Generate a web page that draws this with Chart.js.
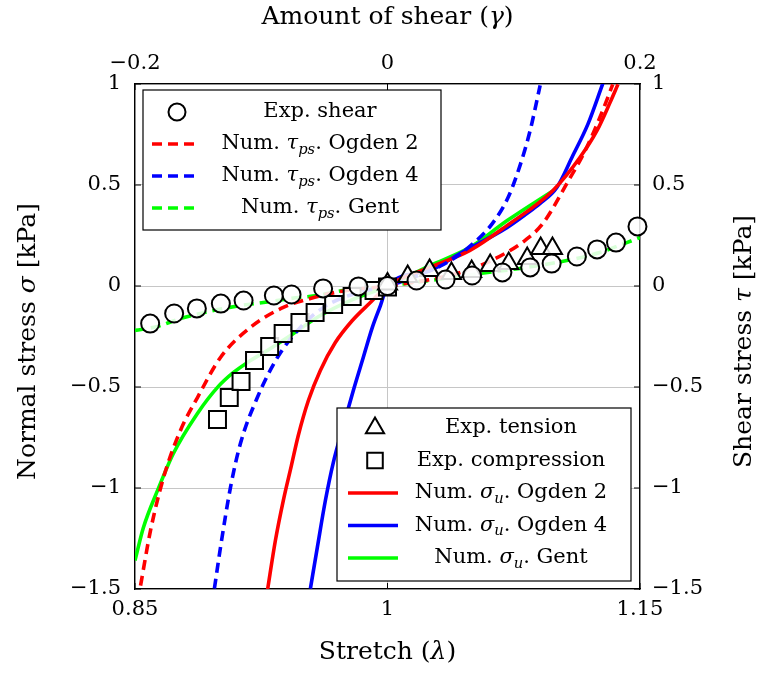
<!DOCTYPE html>
<html>
<head>
<meta charset="utf-8">
<script src="https://cdn.jsdelivr.net/npm/chart.js@4.4.0/dist/chart.umd.min.js"></script>
<style>
  html, body { margin: 0; padding: 0; background: #fff; }
</style>
</head>
<body>
<canvas id="chart" width="760" height="675"></canvas>
<script>
// experimental points
const shearGamma = [-0.188, -0.169, -0.151, -0.132, -0.114, -0.090, -0.076, -0.051, -0.023, 0.0,
  0.023, 0.046, 0.067, 0.091, 0.113, 0.130, 0.150, 0.166, 0.181, 0.198];
const shearTau = [-0.186, -0.136, -0.111, -0.087, -0.072, -0.047, -0.042, -0.012, -0.002, 0.0,
  0.027, 0.032, 0.052, 0.067, 0.092, 0.111, 0.146, 0.181, 0.215, 0.295];
const tensionStretch = [1.0, 1.012, 1.025, 1.038, 1.050, 1.061, 1.072, 1.083, 1.091, 1.098];
const tensionSigma = [0.01, 0.047, 0.077, 0.062, 0.072, 0.101, 0.111, 0.136, 0.186, 0.186];
const compStretch = [0.899, 0.906, 0.913, 0.921, 0.930, 0.938, 0.948, 0.957, 0.968, 0.979, 0.992, 1.0];
const compSigma = [-0.661, -0.552, -0.473, -0.369, -0.299, -0.235, -0.181, -0.131, -0.092, -0.052, -0.022, -0.005];

// numerical, uniaxial (vs stretch)
const og2UniStretch = [0.9286, 0.9334, 0.9381, 0.9429, 0.947, 0.953, 0.9601, 0.969, 0.9791, 0.9898, 1.0,
  1.0252, 1.049, 1.0711, 1.0983, 1.1143, 1.1245, 1.1322, 1.1369];
const og2UniSigma = [-1.512, -1.26, -1.062, -0.889, -0.74, -0.567, -0.418, -0.28, -0.171, -0.082, 0,
  0.092, 0.176, 0.3, 0.473, 0.636, 0.77, 0.908, 0.998];
const og4UniStretch = [0.9542, 0.9583, 0.9631, 0.9678, 0.9738, 0.9797, 0.9856, 0.991, 0.9958, 1.0,
  1.0252, 1.043, 1.0709, 1.0828, 1.0905, 1.1006, 1.1101, 1.119, 1.1279];
const og4UniSigma = [-1.498, -1.295, -1.062, -0.874, -0.691, -0.517, -0.354, -0.205, -0.097, 0,
  0.077, 0.161, 0.289, 0.359, 0.408, 0.488, 0.646, 0.8, 1.002];
const gentUniStretch = [0.85, 0.855, 0.8634, 0.8728, 0.8871, 0.899, 0.9085, 0.9186, 0.9286, 0.9423,
  0.9601, 0.9779, 1.0, 1.0252, 1.049, 1.0711, 1.0995];
const gentUniSigma = [-1.359, -1.196, -1.012, -0.829, -0.631, -0.502, -0.428, -0.369, -0.319, -0.245,
  -0.146, -0.072, 0, 0.101, 0.191, 0.324, 0.478];

// numerical, simple shear (vs amount of shear)
const og2ShearGamma = [-0.1956, -0.1877, -0.1774, -0.164, -0.1505, -0.1323, -0.1086, -0.0825, -0.0611,
  -0.0374, 0, 0.0336, 0.055, 0.0732, 0.0945, 0.1088, 0.123, 0.142, 0.1578, 0.1705, 0.1784];
const og2ShearTau = [-1.483, -1.21, -0.948, -0.715, -0.552, -0.354, -0.205, -0.106, -0.062,
  -0.027, 0, 0.032, 0.062, 0.101, 0.166, 0.225, 0.309, 0.507, 0.686, 0.869, 0.998];
const og4ShearGamma = [-0.1371, -0.1323, -0.1244, -0.1165, -0.1031, -0.0872, -0.069, -0.0508, -0.035,
  -0.0162, 0, 0.0281, 0.0471, 0.0678, 0.0836, 0.0955, 0.105, 0.113, 0.1209];
const og4ShearTau = [-1.498, -1.295, -0.998, -0.78, -0.552, -0.354, -0.205, -0.106, -0.057,
  -0.022, 0, 0.062, 0.116, 0.21, 0.314, 0.438, 0.597, 0.77, 0.993];
const gentShearGamma = [-0.2, -0.1822, -0.164, -0.1379, -0.1165, -0.0983, -0.077, -0.0556, -0.035,
  -0.0138, 0, 0.0336, 0.0732, 0.1048, 0.142, 0.1681, 0.1895, 0.2];
const gentShearTau = [-0.22, -0.2, -0.161, -0.121, -0.097, -0.082, -0.062, -0.047, -0.022,
  -0.012, 0, 0.027, 0.062, 0.087, 0.126, 0.166, 0.215, 0.24];

const stretchTicks = [0.85, 1, 1.15];
const shearTicks = [-0.2, 0, 0.2];
const stressTicks = [-1.5, -1, -0.5, 0, 0.5, 1];

const SERIF = '"DejaVu Serif", serif';
const RED = "#ff0000";
const BLUE = "#0000ff";
const GREEN = "#00ff00";
const MARKER_FILL = "rgba(255,255,255,0.85)";

function pts(xs, ys) {
  return xs.map((x, i) => ({ x: x, y: ys[i] }));
}

function fmt(v) {
  return (v < 0 ? "\u2212" : "") + String(Math.abs(v));
}

function curve(label, xs, ys, color, dashed, shear) {
  return {
    label: label,
    data: pts(xs, ys),
    xAxisID: shear ? "x2" : "x",
    yAxisID: shear ? "y2" : "y",
    showLine: true,
    borderColor: color,
    backgroundColor: color,
    borderWidth: 3.6,
    borderDash: dashed ? [10, 6] : [],
    pointRadius: 0,
    cubicInterpolationMode: "monotone",
    order: 2,
  };
}

function markers(label, xs, ys, style, radius, shear) {
  return {
    label: label,
    data: pts(xs, ys),
    xAxisID: shear ? "x2" : "x",
    yAxisID: shear ? "y2" : "y",
    showLine: false,
    pointStyle: style,
    pointRadius: radius,
    pointBorderWidth: 2,
    pointBorderColor: "#000",
    pointBackgroundColor: MARKER_FILL,
    borderColor: "#000",
    backgroundColor: MARKER_FILL,
    clip: false,
    order: 1,
  };
}

const datasets = [
  markers("Exp. shear", shearGamma, shearTau, "circle", 9, true), // 0
  curve("Num. tau_ps. Ogden 2", og2ShearGamma, og2ShearTau, RED, true, true), // 1
  curve("Num. tau_ps. Ogden 4", og4ShearGamma, og4ShearTau, BLUE, true, true), // 2
  curve("Num. tau_ps. Gent", gentShearGamma, gentShearTau, GREEN, true, true), // 3
  markers("Exp. tension", tensionStretch, tensionSigma, "triangle", 11, false), // 4
  markers("Exp. compression", compStretch, compSigma, "rect", 12, false), // 5
  curve("Num. sigma_u. Ogden 2", og2UniStretch, og2UniSigma, RED, false, false), // 6
  curve("Num. sigma_u. Ogden 4", og4UniStretch, og4UniSigma, BLUE, false, false), // 7
  curve("Num. sigma_u. Gent", gentUniStretch, gentUniSigma, GREEN, false, false), // 8
];
// circles sit on top of the triangles
datasets[0].order = 0;

// legend text, parts: [text, style]
const legendShear = [
  { ds: 0, parts: [["Exp. shear", ""]] },
  { ds: 1, parts: [["Num. ", ""], ["\u03c4", "i"], ["ps", "sub"], [". Ogden 2", ""]] },
  { ds: 2, parts: [["Num. ", ""], ["\u03c4", "i"], ["ps", "sub"], [". Ogden 4", ""]] },
  { ds: 3, parts: [["Num. ", ""], ["\u03c4", "i"], ["ps", "sub"], [". Gent", ""]] },
];
const legendUni = [
  { ds: 4, parts: [["Exp. tension", ""]] },
  { ds: 5, parts: [["Exp. compression", ""]] },
  { ds: 6, parts: [["Num. ", ""], ["\u03c3", "i"], ["u", "sub"], [". Ogden 2", ""]] },
  { ds: 7, parts: [["Num. ", ""], ["\u03c3", "i"], ["u", "sub"], [". Ogden 4", ""]] },
  { ds: 8, parts: [["Num. ", ""], ["\u03c3", "i"], ["u", "sub"], [". Gent", ""]] },
];

function drawRich(ctx, parts, x, y, size) {
  const segs = parts.map(([t, s]) => {
    const fs = s === "sub" ? size * 0.7 : size;
    const font = (s ? "italic " : "") + fs + "px " + SERIF;
    ctx.font = font;
    return { t: t, font: font, w: ctx.measureText(t).width, dy: s === "sub" ? size * 0.28 : 0 };
  });
  const total = segs.reduce((a, s) => a + s.w, 0);
  let cx = x - total / 2;
  ctx.textAlign = "left";
  ctx.textBaseline = "middle";
  ctx.fillStyle = "#000";
  segs.forEach((s) => {
    ctx.font = s.font;
    ctx.fillText(s.t, cx, y + s.dy);
    cx += s.w;
  });
}

function drawLegend(chart, entries, box) {
  const ctx = chart.ctx;
  ctx.save();
  ctx.fillStyle = "#fff";
  ctx.fillRect(box.x, box.y, box.w, box.h);
  ctx.strokeStyle = "#000";
  ctx.lineWidth = 1.2;
  ctx.strokeRect(box.x, box.y, box.w, box.h);
  entries.forEach((e, i) => {
    const ds = chart.data.datasets[e.ds];
    const y = box.rowY + i * box.rowH;
    if (ds.showLine) {
      ctx.strokeStyle = ds.borderColor;
      ctx.lineWidth = ds.borderWidth;
      ctx.setLineDash(ds.borderDash);
      ctx.beginPath();
      ctx.moveTo(box.lineX0, y);
      ctx.lineTo(box.lineX1, y);
      ctx.stroke();
      ctx.setLineDash([]);
    } else {
      ctx.fillStyle = "#fff";
      ctx.strokeStyle = "#000";
      ctx.lineWidth = 2;
      Chart.helpers.drawPoint(ctx, {
        pointStyle: ds.pointStyle,
        radius: ds.pointStyle === "circle" ? 8.5 : ds.pointStyle === "rect" ? 11 : 10.5,
        rotation: 0,
        borderWidth: 2,
      }, (box.lineX0 + box.lineX1) / 2 + 2, y);
    }
    drawRich(ctx, e.parts, box.textX, y, 21);
  });
  ctx.restore();
}

const decorations = {
  id: "decorations",
  afterDraw(chart) {
    const ctx = chart.ctx;
    const a = chart.chartArea;
    const s = chart.scales;
    ctx.save();
    // inward tick marks
    ctx.strokeStyle = "#000";
    ctx.lineWidth = 1;
    ctx.beginPath();
    stressTicks.forEach((v) => {
      const py = s.y.getPixelForValue(v);
      ctx.moveTo(a.left, py); ctx.lineTo(a.left + 6, py);
      ctx.moveTo(a.right, py); ctx.lineTo(a.right - 6, py);
    });
    stretchTicks.forEach((v) => {
      const px = s.x.getPixelForValue(v);
      ctx.moveTo(px, a.bottom); ctx.lineTo(px, a.bottom - 6);
    });
    shearTicks.forEach((v) => {
      const px = s.x2.getPixelForValue(v);
      ctx.moveTo(px, a.top); ctx.lineTo(px, a.top + 6);
    });
    ctx.stroke();
    ctx.restore();

    drawLegend(chart, legendShear, {
      x: 143, y: 90, w: 298, h: 140, rowY: 112, rowH: 32,
      lineX0: 152, lineX1: 198, textX: 320,
    });
    drawLegend(chart, legendUni, {
      x: 337, y: 408, w: 294, h: 173, rowY: 428, rowH: 32.5,
      lineX0: 348, lineX1: 398, textX: 511,
    });

    // axis titles
    const cx = (a.left + a.right) / 2;
    const cy = (a.top + a.bottom) / 2;
    ctx.save();
    drawRich(ctx, [["Amount of shear (", ""], ["\u03b3", "i"], [")", ""]], cx, 17, 25);
    drawRich(ctx, [["Stretch (", ""], ["\u03bb", "i"], [")", ""]], cx, 652, 25);
    ctx.translate(28, cy + 5);
    ctx.rotate(-Math.PI / 2);
    drawRich(ctx, [["Normal stress ", ""], ["\u03c3", "i"], [" [kPa]", ""]], 0, 0, 25);
    ctx.restore();
    ctx.save();
    ctx.translate(744, cy + 5);
    ctx.rotate(-Math.PI / 2);
    drawRich(ctx, [["Shear stress ", ""], ["\u03c4", "i"], [" [kPa]", ""]], 0, 0, 25);
    ctx.restore();
  },
};

const tickFont = { family: SERIF, size: 21 };

new Chart(document.getElementById("chart"), {
  type: "scatter",
  data: { datasets: datasets },
  plugins: [decorations],
  options: {
    responsive: false,
    animation: false,
    layout: { padding: 0 },
    plugins: { legend: { display: false }, tooltip: { enabled: false } },
    scales: {
      x: {
        type: "linear",
        position: "bottom",
        min: 0.85,
        max: 1.15,
        afterBuildTicks: (sc) => { sc.ticks = stretchTicks.map((v) => ({ value: v })); },
        afterFit: (sc) => { sc.height = 86; },
        grid: { color: "#c6c6c6", drawTicks: false },
        border: { color: "#000", width: 1.3 },
        ticks: { font: tickFont, color: "#000", padding: 8, maxRotation: 0, callback: fmt },
      },
      x2: {
        type: "linear",
        position: "top",
        min: -0.2,
        max: 0.2,
        afterBuildTicks: (sc) => { sc.ticks = shearTicks.map((v) => ({ value: v })); },
        afterFit: (sc) => { sc.height = 84; },
        grid: { display: false, drawTicks: false },
        border: { color: "#000", width: 1.3 },
        ticks: { font: tickFont, color: "#000", padding: 8, maxRotation: 0, callback: fmt },
      },
      y: {
        type: "linear",
        position: "left",
        min: -1.5,
        max: 1,
        afterBuildTicks: (sc) => { sc.ticks = stressTicks.map((v) => ({ value: v })); },
        afterFit: (sc) => { sc.width = 135; },
        grid: { color: "#c6c6c6", drawTicks: false },
        border: { color: "#000", width: 1.3 },
        ticks: { font: tickFont, color: "#000", padding: 14, callback: fmt },
      },
      y2: {
        type: "linear",
        position: "right",
        min: -1.5,
        max: 1,
        afterBuildTicks: (sc) => { sc.ticks = stressTicks.map((v) => ({ value: v })); },
        afterFit: (sc) => { sc.width = 120; },
        grid: { display: false, drawTicks: false },
        border: { color: "#000", width: 1.3 },
        ticks: { font: tickFont, color: "#000", padding: 12, callback: fmt },
      },
    },
  },
});
</script>
</body>
</html>
